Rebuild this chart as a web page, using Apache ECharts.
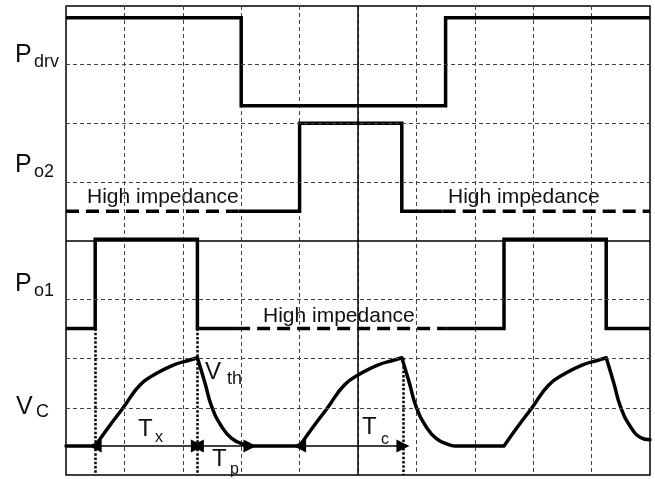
<!DOCTYPE html>
<html>
<head>
<meta charset="utf-8">
<script src="https://cdn.jsdelivr.net/npm/echarts@6/dist/echarts.min.js"></script>
<style>
html,body{margin:0;padding:0;background:#fff;}
#chart{width:655px;height:479px;}
</style>
</head>
<body>
<div id="chart"></div>
<script>
// ---- data (time units on x, level units on y) ----
const xRange = [0, 10];
const yRange = [0, 8];
const hGridDashed = [7, 6, 5, 3, 2, 1.14];
const hGridSolid = [4];
const vGridSolid = [5];

const pdrv = [[0,7.8],[3,7.8],[3,6.3],[6.5,6.3],[6.5,7.8],[10,7.8]];

const po2Solid = [[2.95,4.5],[4,4.5],[4,6.0],[5.75,6.0],[5.75,4.5],[6.45,4.5]];
const po2DashLeft = [[0,4.5],[2.95,4.5]];
const po2DashRight = [[6.45,4.5],[10,4.5]];

const po1SolidLeft = [[0,2.5],[0.5,2.5],[0.5,4.02],[2.25,4.02],[2.25,2.5],[2.93,2.5]];
const po1Dash = [[2.93,2.5],[6.52,2.5]];
const po1SolidRight = [[6.52,2.5],[7.5,2.5],[7.5,4.02],[9.25,4.02],[9.25,2.5],[10,2.5]];

const vc = [
  [0,0.495],[0.5,0.495], null,
  [0.5,0.495],[0.74,0.83],[0.976,1.143],[1.267,1.535],[1.553,1.735],[1.837,1.876],[2.123,1.962],[2.25,2.0], null,
  [2.25,2.0],[2.38,1.57],[2.495,1.165],[2.666,0.824],[2.837,0.626],[3.065,0.512],[3.15,0.495], null,
  [3.15,0.495],[4.0,0.495], null,
  [4.0,0.495],[4.24,0.83],[4.476,1.143],[4.767,1.535],[5.053,1.735],[5.337,1.876],[5.623,1.962],[5.75,2.0], null,
  [5.75,2.0],[5.88,1.57],[5.995,1.165],[6.166,0.824],[6.337,0.626],[6.565,0.512],[6.65,0.495], null,
  [6.65,0.495],[7.5,0.495], null,
  [7.5,0.495],[7.74,0.83],[7.976,1.143],[8.267,1.535],[8.553,1.735],[8.837,1.876],[9.123,1.962],[9.25,2.0], null,
  [9.25,2.0],[9.38,1.57],[9.495,1.165],[9.666,0.824],[9.837,0.64],[10,0.6]
];

// event markers: [x, top level]
const dottedMarks = [[0.5,2.5],[2.25,2.5],[5.77,2.0]];
// interval arrows: [from, to, level]
const intervals = [[0.5,2.25,0.495],[2.25,3.15,0.495],[4.0,5.77,0.495]];

// ---- chart ----
const chart = echarts.init(document.getElementById('chart'), null, {renderer:'canvas'});
const FONT = '"Liberation Sans", Arial, sans-serif';
const black = '#000';

function lineSeries(data, opts) {
  return Object.assign({
    type: 'line', data: data, symbol: 'none', silent: true, animation: false,
    lineStyle: {color: black, width: 3.5, join: 'miter'}
  }, opts || {});
}

function txt(text, x, y, size) {
  return {type:'text', x:x, y:y, silent:true,
    style:{text:text, font: size + 'px ' + FONT, fill:'#111', textVerticalAlign:'middle', textAlign:'left'}};
}

const option = {
  animation: false,
  backgroundColor: '#fff',
  grid: {left:66, right:5, top:6, bottom:4, show:true, borderColor:black, borderWidth:1.5, backgroundColor:'transparent'},
  xAxis: {type:'value', min:xRange[0], max:xRange[1], interval:1,
    axisLine:{show:false}, axisTick:{show:false}, axisLabel:{show:false},
    splitLine:{show:true, lineStyle:{color:'#444', width:1, type:[4,3]}}},
  yAxis: {type:'value', min:yRange[0], max:yRange[1],
    axisLine:{show:false}, axisTick:{show:false}, axisLabel:{show:false}, splitLine:{show:false}},
  series: [
    {type:'line', data:[], silent:true, symbol:'none',
      markLine:{silent:true, symbol:'none', label:{show:false}, animation:false,
        lineStyle:{color:'#444', width:1, type:[4,3]},
        data: hGridDashed.map(v => ({yAxis:v}))}},
    {type:'line', data:[], silent:true, symbol:'none',
      markLine:{silent:true, symbol:'none', label:{show:false}, animation:false,
        lineStyle:{color:black, width:1.5, type:'solid'},
        data: hGridSolid.map(v => ({yAxis:v})).concat(vGridSolid.map(v => ({xAxis:v})))}},
    {type:'line', data:[], silent:true, symbol:'none',
      markLine:{silent:true, symbol:'none', label:{show:false}, animation:false,
        lineStyle:{color:black, width:2.5, type:[2.5,1.8]},
        data: dottedMarks.map(d => [{coord:[d[0], d[1]]},{coord:[d[0], yRange[0]]}])}},
    lineSeries(pdrv),
    lineSeries(po2Solid),
    lineSeries(po2DashLeft, {lineStyle:{color:black, width:3.5, type:[13,7]}}),
    lineSeries(po2DashRight, {lineStyle:{color:black, width:3.5, type:[13,7]}}),
    lineSeries(po1SolidLeft),
    lineSeries(po1Dash, {lineStyle:{color:black, width:3.5, type:[13,7]}}),
    lineSeries(po1SolidRight),
    lineSeries(vc, {smooth:0.5, connectNulls:false, lineStyle:{color:black, width:3.5, cap:'round', join:'round'}}),
    {type:'line', data:[], silent:true, symbol:'none', z:5,
      markLine:{silent:true, symbol:['triangle','triangle'], symbolSize:13, label:{show:false}, animation:false,
        lineStyle:{color:black, width:1.5, type:'solid'},
        data: intervals.map(d => [{coord:[d[0], d[2]]},{coord:[d[1], d[2]]}])}}
  ],
  graphic: [
    txt('P', 15, 55, 25), txt('drv', 34, 62, 18),
    txt('P', 15, 165, 25), txt('o2', 34, 172, 18),
    txt('P', 15, 284, 25), txt('o1', 34, 291, 18),
    txt('V', 16, 407, 25), txt('C', 36, 412, 18),
    txt('High impedance', 87, 197, 21),
    txt('High impedance', 448, 197, 21),
    txt('High impedance', 263, 316, 21),
    txt('V', 205, 372, 24), txt('th', 227, 379, 18),
    txt('T', 138, 429, 24), txt('x', 155, 438, 16),
    txt('T', 212, 459, 24), txt('p', 230, 470, 16),
    txt('T', 362, 427, 24), txt('c', 381, 440, 16)
  ]
};
chart.setOption(option);
</script>
</body>
</html>
